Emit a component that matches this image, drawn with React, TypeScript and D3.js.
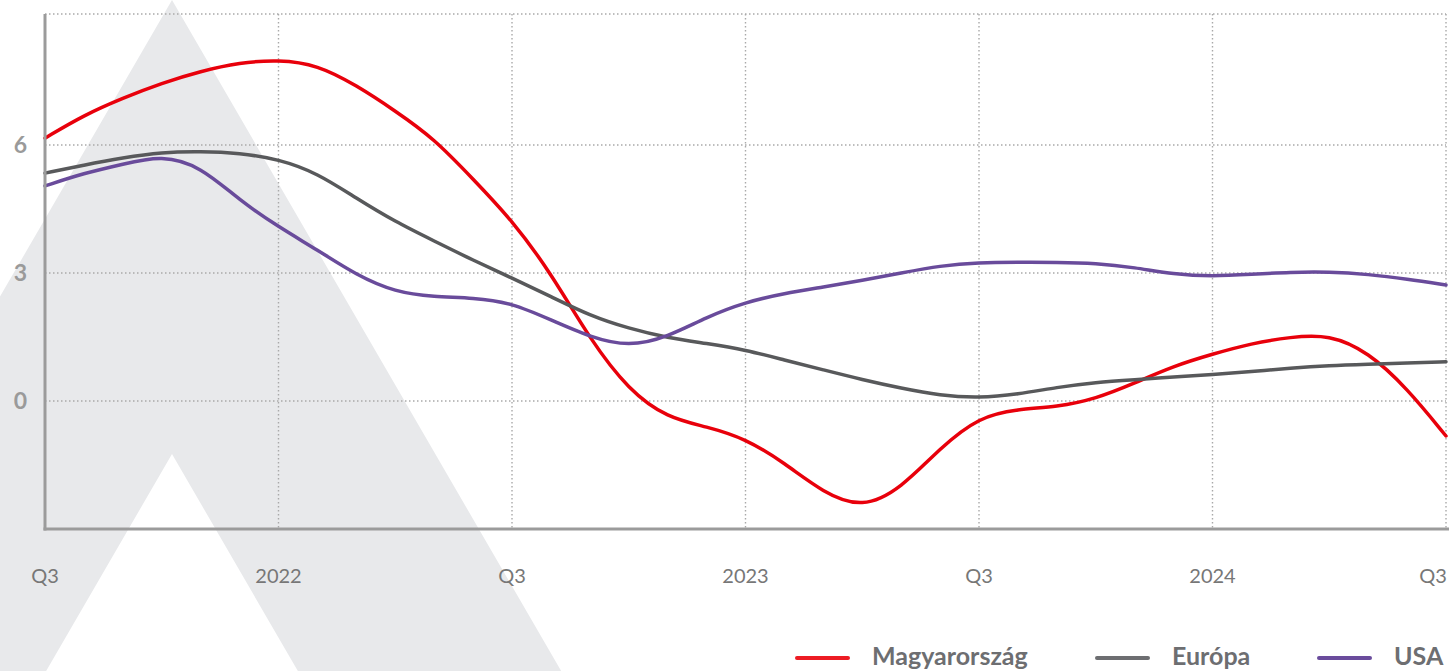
import React from 'react';
import * as d3 from 'd3';

// monthly readings, Q3 2021 .. Q3 2024
const tickLabels = ['Q3', '2022', 'Q3', '2023', 'Q3', '2024', 'Q3'];
const yTicks = [0, 3, 6];

const hungary = [
  6.16, 6.7, 7.1, 7.45, 7.73, 7.93, 8.0, 7.88, 7.4, 6.8, 6.15, 5.2, 4.24,
  3.0, 1.45, 0.25, -0.4, -0.6, -0.88, -1.45, -2.15, -2.52, -2.05, -1.1,
  -0.37, -0.19, -0.14, 0.05, 0.42, 0.82, 1.1, 1.35, 1.5, 1.56, 1.15, 0.3, -0.82
];
const europe = [
  5.34, 5.53, 5.7, 5.83, 5.85, 5.81, 5.67, 5.34, 4.75, 4.2, 3.75, 3.3, 2.88,
  2.45, 2.0, 1.7, 1.48, 1.35, 1.2, 0.96, 0.73, 0.5, 0.3, 0.13,
  0.07, 0.16, 0.32, 0.44, 0.5, 0.56, 0.62, 0.69, 0.77, 0.83, 0.86, 0.89, 0.92
];
const usa = [
  5.04, 5.34, 5.55, 5.76, 5.5, 4.7, 4.08, 3.54, 2.95, 2.55, 2.44, 2.42, 2.3,
  1.9, 1.5, 1.27, 1.5, 1.97, 2.32, 2.52, 2.67, 2.83, 3.0, 3.17,
  3.25, 3.25, 3.25, 3.23, 3.13, 2.97, 2.92, 2.97, 3.02, 3.03, 2.97, 2.86, 2.72
];

const series = [
  { name: 'Magyarország', color: '#e8000b', legend: '#ed1c24', values: hungary },
  { name: 'Európa', color: '#58595b', legend: '#6d6e71', values: europe },
  { name: 'USA', color: '#694b9b', legend: '#6a4c9c', values: usa },
];

const W = 1449, H = 671;
const left = 45, right = 1446, top = 14, bottom = 529;

export default function App() {
  const x = d3.scaleLinear().domain([0, hungary.length - 1]).range([left, right]);
  const y = d3.scaleLinear().domain([-3, 9.07]).range([bottom, top]);

  const line = d3.line<number>()
    .x((d, i) => x(i))
    .y(d => y(d))
    .curve(d3.curveBasis);

  const tickX = tickLabels.map((t, i) => x(i * 6));

  // background logo shape
  const ax = 172, slope = 0.58;
  const outer = `M${ax},0 L${ax + slope * H},${H} L${ax - slope * H},${H} Z`;
  const iy = 454;
  const inner = `M${ax},${iy} L${ax + slope * (H - iy)},${H} L${ax - slope * (H - iy)},${H} Z`;

  const legendX = [797, 1097, 1319];

  return (
    <svg width={W} height={H} style={{ position: 'absolute', left: 0, top: 0, background: '#fff' }}
         fontFamily="Lato, 'Open Sans', sans-serif">
      <path d={outer + ' ' + inner} fill="#e8e9eb" fillRule="evenodd" />

      <g stroke="#a9a9a9" strokeWidth={1.4} strokeDasharray="1.5,2.5">
        {[...yTicks, 9.07].map(v => (
          <line key={'h' + v} x1={left} x2={right} y1={y(v)} y2={y(v)} />
        ))}
        {tickX.slice(1).map((px, i) => (
          <line key={'v' + i} x1={px} x2={px} y1={top} y2={bottom} />
        ))}
      </g>

      <g fill="#9a9a9a" fontWeight="bold" fontSize={23} textAnchor="end">
        {yTicks.map(v => (
          <text key={v} x={27} y={y(v) + 8}>{v}</text>
        ))}
      </g>

      <g fill="#777" fontSize={20} textAnchor="middle">
        {tickLabels.map((t, i) => (
          <text key={i} x={i === tickLabels.length - 1 ? W - 16 : tickX[i]} y={583}>{t}</text>
        ))}
      </g>

      {series.map(s => (
        <path key={s.name} d={line(s.values) || ''} fill="none" stroke={s.color}
              strokeWidth={3.5} strokeLinejoin="round" strokeLinecap="round" />
      ))}

      <g stroke="#9b9b9b" strokeWidth={3} fill="none">
        <line x1={left} x2={left} y1={top} y2={bottom + 1.5} />
        <line x1={left - 1.5} x2={W} y1={bottom} y2={bottom} />
      </g>

      {series.map((s, i) => (
        <g key={s.name} transform={`translate(${legendX[i]},658)`}>
          <line x1={0} x2={51} y1={0} y2={0} stroke={s.legend} strokeWidth={4} strokeLinecap="round" />
          <text x={75} y={7} fill="#6d6e71" fontWeight="bold" fontSize={25}>{s.name}</text>
        </g>
      ))}
    </svg>
  );
}
